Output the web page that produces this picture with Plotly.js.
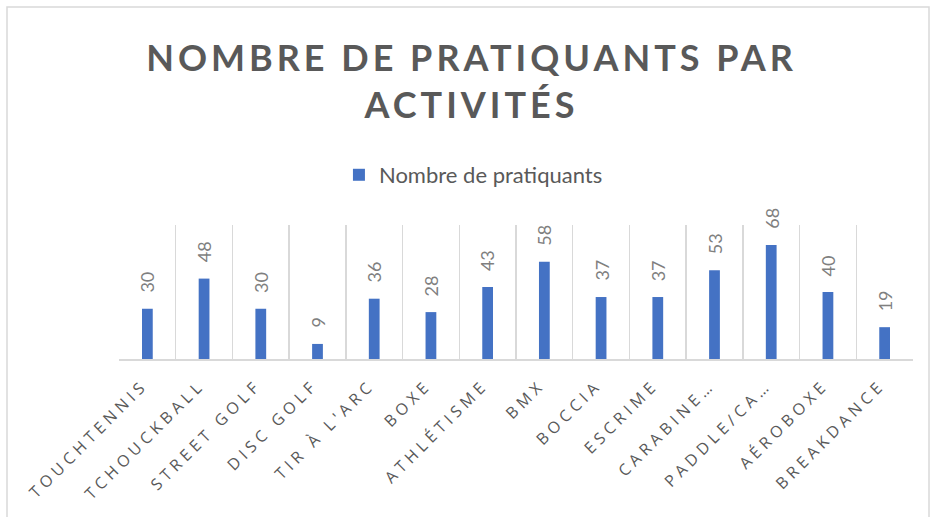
<!DOCTYPE html>
<html>
<head>
<meta charset="utf-8">
<script src="https://cdn.plot.ly/plotly-3.0.1.min.js"></script>
<style>
html,body{margin:0;padding:0;background:#fff;}
#chart{width:930px;height:517px;}
#chart .xtick text{letter-spacing:4.5px;}
#chart .gtitle{letter-spacing:4px;}
</style>
</head>
<body>
<div id="chart"></div>
<script>
const categories = ["TOUCHTENNIS","TCHOUCKBALL","STREET GOLF","DISC GOLF","TIR À L'ARC","BOXE","ATHLÉTISME","BMX","BOCCIA","ESCRIME","CARABINE…","PADDLE/CA…","AÉROBOXE","BREAKDANCE"];
const values = [30,48,30,9,36,28,43,58,37,37,53,68,40,19];
const seriesName = "Nombre de pratiquants";
const chartTitle = "NOMBRE DE PRATIQUANTS PAR<br>ACTIVITÉS";

const trace = {
  type: 'bar',
  x: categories,
  y: values,
  name: seriesName,
  marker: {color: '#4472C4'},
  width: 0.19,
  hoverinfo: 'x+y'
};

const annotations = categories.map((c, i) => ({
  x: c, y: values[i], xref: 'x', yref: 'y',
  text: String(values[i]),
  showarrow: false,
  textangle: -90,
  yanchor: 'bottom', xanchor: 'center',
  yshift: 14,
  font: {family: 'Lato, sans-serif', size: 18, color: '#7F7F7F'}
}));

const layout = {
  width: 930, height: 517,
  margin: {l: 119, r: 17, t: 225, b: 158},
  paper_bgcolor: '#ffffff', plot_bgcolor: '#ffffff',
  title: {
    text: chartTitle,
    font: {family: 'Lato, sans-serif', size: 36, color: '#595959', weight: 'bold'},
    xref: 'container', x: 0.507, xanchor: 'center',
    yref: 'container', y: 0.862, yanchor: 'top'
  },
  showlegend: true,
  legend: {
    orientation: 'h',
    x: 0.277, xanchor: 'left',
    y: 1.53, yanchor: 'top',
    font: {family: 'Lato, sans-serif', size: 22, color: '#595959'},
    itemwidth: 30
  },
  xaxis: {
    type: 'category',
    tickson: 'boundaries',
    showgrid: true, gridcolor: '#D9D9D9', gridwidth: 1.5,
    showline: true, linecolor: '#D9D9D9', linewidth: 1.5,
    ticks: '', tickangle: -45,
    ticklabelstandoff: 9, ticklabelshift: -4,
    tickfont: {family: '"Open Sans", sans-serif', size: 16, color: '#595959'},
    range: [-0.5, 13.5]
  },
  yaxis: {
    range: [0, 80],
    showgrid: false, showline: false, zeroline: false,
    showticklabels: false, ticks: ''
  },
  shapes: [{
    type: 'rect', xref: 'paper', yref: 'paper',
    x0: (7 - 119) / 794, x1: (929 - 119) / 794,
    y0: (359 - 530) / 134, y1: (359 - 7) / 134,
    line: {color: '#D9D9D9', width: 1.5},
    fillcolor: 'rgba(0,0,0,0)', layer: 'below'
  }],
  annotations: annotations
};

Plotly.newPlot('chart', [trace], layout, {displayModeBar: false, staticPlot: true});
</script>
</body>
</html>
